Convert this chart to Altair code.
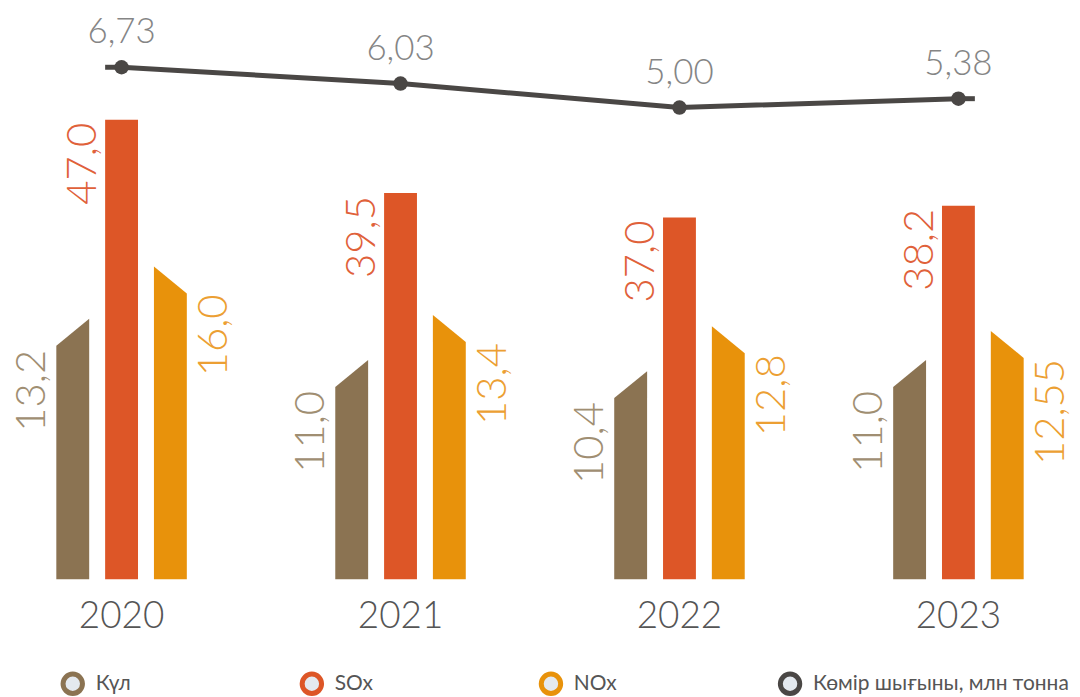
import altair as alt
import pandas as pd

# ---- data ----
years = ["2020", "2021", "2022", "2023"]
ash = [13.2, 11.0, 10.4, 11.0]          # Күл
sox = [47.0, 39.5, 37.0, 38.2]          # SOx
nox = [16.0, 13.4, 12.8, 12.55]         # NOx
coal = [6.73, 6.03, 5.00, 5.38]         # Көмір шығыны, млн тонна
series_names = ["Күл", "SOx", "NOx", "Көмір шығыны, млн тонна"]
colors = ["#8B7352", "#DD5627", "#E8920B", "#4A4745"]
label_colors = ["#A08E72", "#E0613A", "#EC9F33"]

# ---- layout ----
W, H = 1064, 685          # plot area (page y 8 .. 693)
BASE = 572                # px from plot top down to the bar baseline
BELOW = H - BASE
PX = 1 / 280.0            # x data units per pixel
X0 = -(122 - 8) * PX
XDOM = [X0, X0 + W * PX]

small_px = 18.772         # px per unit, Күл / NOx
sox_px = 9.811            # px per unit, SOx
line_px = 23.36           # px per unit, coal line
SMALL_DOM = [-BELOW / small_px, BASE / small_px]
SOX_DOM = [-BELOW / sox_px, BASE / sox_px]
LINE_DOM = [5.785 - (491.75 + BELOW) / line_px, 5.785 + (BASE - 491.75) / line_px]

half_w = 16.5 * PX
off = 49 * PX
slant = 13.5 / small_px
FONT = "Lato"
LEGEND_Y = 677
LEGEND_RANGE = [65, 65 + 3 * 240]

xs = alt.Scale(domain=XDOM, nice=False, zero=False)
color_scale = alt.Scale(domain=series_names, range=colors)


def fmt(v):
    return str(v).replace(".", ",")


rows = []
for i, yr in enumerate(years):
    for s, vals, dx, sgn in [("Күл", ash, -off, 1), ("NOx", nox, off, -1)]:
        v = vals[i]
        rows.append(dict(bar=f"{s}-{yr}", series=s, x=i + dx - half_w, top=v - sgn * slant, base=0))
        rows.append(dict(bar=f"{s}-{yr}", series=s, x=i + dx + half_w, top=v + sgn * slant, base=0))
small_bars = pd.DataFrame(rows)

rows = []
for i, yr in enumerate(years):
    rows.append(dict(bar=f"SOx-{yr}", series="SOx", x=i - half_w, top=sox[i], base=0))
    rows.append(dict(bar=f"SOx-{yr}", series="SOx", x=i + half_w, top=sox[i], base=0))
sox_bars = pd.DataFrame(rows)

ash_labels = pd.DataFrame(
    [dict(x=i - 76.5 * PX, y=ash[i] - slant - 4 / small_px, label=fmt(ash[i])) for i in range(len(years))]
)
nox_labels = pd.DataFrame(
    [dict(x=i + 105.5 * PX, y=nox[i] - slant - 1 / small_px, label=fmt(nox[i])) for i in range(len(years))]
)
sox_labels = pd.DataFrame(
    [dict(x=i - 25.5 * PX, y=sox[i] - 3 / sox_px, label=fmt(sox[i])) for i in range(len(years))]
)

line_df = pd.DataFrame(
    dict(x=list(range(len(years))), v=coal, label=[f"{c:.2f}".replace(".", ",") for c in coal])
)
stub_df = pd.DataFrame(
    dict(x=[0 - half_w, len(years) - 1], x2=[0, len(years) - 1 + half_w], v=[coal[0], coal[-1]])
)
year_df = pd.DataFrame(dict(x=list(range(len(years))), year=years, zero=[0] * len(years)))
legend_df = pd.DataFrame(dict(series=series_names))

X = alt.X("x:Q", scale=xs, axis=None)

# ---- layers ----
bars_small = alt.Chart(small_bars).mark_area().encode(
    x=X,
    y=alt.Y("top:Q", scale=alt.Scale(domain=SMALL_DOM, nice=False, zero=False), axis=None, stack=None),
    y2="base:Q",
    detail="bar:N",
    color=alt.Color("series:N", scale=color_scale, legend=None),
)
bars_sox = alt.Chart(sox_bars).mark_area().encode(
    x=X,
    y=alt.Y("top:Q", scale=alt.Scale(domain=SOX_DOM, nice=False, zero=False), axis=None, stack=None),
    y2="base:Q",
    detail="bar:N",
    color=alt.Color("series:N", scale=color_scale, legend=None),
)


def bar_labels(df, dom, col):
    return alt.Chart(df).mark_text(
        angle=270, align="right", baseline="alphabetic", font=FONT, fontSize=42,
        fontWeight=300, color=col
    ).encode(
        x=X,
        y=alt.Y("y:Q", scale=alt.Scale(domain=dom, nice=False, zero=False), axis=None),
        text="label:N",
    )


lbl_ash = bar_labels(ash_labels, SMALL_DOM, label_colors[0])
lbl_sox = bar_labels(sox_labels, SOX_DOM, label_colors[1])
lbl_nox = bar_labels(nox_labels, SMALL_DOM, label_colors[2])

ly = alt.Scale(domain=LINE_DOM, nice=False, zero=False)
line = alt.Chart(line_df).mark_line(color=colors[3], strokeWidth=5).encode(
    x=X, y=alt.Y("v:Q", scale=ly, axis=None),
)
stubs = alt.Chart(stub_df).mark_rule(color=colors[3], strokeWidth=5).encode(
    x=X, x2="x2:Q", y=alt.Y("v:Q", scale=ly, axis=None),
)
pts = alt.Chart(line_df).mark_circle(color=colors[3], size=210, opacity=1).encode(
    x=X, y=alt.Y("v:Q", scale=ly, axis=None),
)
line_lbl = alt.Chart(line_df).mark_text(
    dy=-35, baseline="middle", font=FONT, fontSize=35, fontWeight=300, color="#858585"
).encode(
    x=X, y=alt.Y("v:Q", scale=ly, axis=None), text="label:N",
)
year_lbl = alt.Chart(year_df).mark_text(
    dy=49, baseline="alphabetic", font=FONT, fontSize=37, fontWeight=300, color="#555555"
).encode(
    x=X,
    y=alt.Y("zero:Q", scale=alt.Scale(domain=SMALL_DOM, nice=False, zero=False), axis=None),
    text="year:N",
)

# legend drawn as marks: ring symbols + labels
LX = alt.X("series:N", scale=alt.Scale(domain=series_names, range=LEGEND_RANGE, padding=0), axis=None)
leg_sym = alt.Chart(legend_df).mark_point(
    shape="circle", filled=False, fill="#E4E9EF", fillOpacity=1, strokeWidth=5, size=380, opacity=1
).encode(
    x=LX, y=alt.value(LEGEND_Y),
    stroke=alt.Stroke("series:N", scale=color_scale, legend=None),
)
leg_txt = alt.Chart(legend_df).mark_text(
    align="left", baseline="middle", dx=23, font=FONT, fontSize=21, color="#555555"
).encode(
    x=LX, y=alt.value(LEGEND_Y), text="series:N",
)

chart = alt.layer(
    bars_small, bars_sox, lbl_ash, lbl_sox, lbl_nox, stubs, line, pts, line_lbl, year_lbl,
    leg_sym, leg_txt
).resolve_scale(x="independent", y="independent").properties(
    width=W, height=H, padding=0, background="white"
).configure_view(stroke=None)

chart.save("out.html", embed_options={"renderer": "svg", "actions": False})
